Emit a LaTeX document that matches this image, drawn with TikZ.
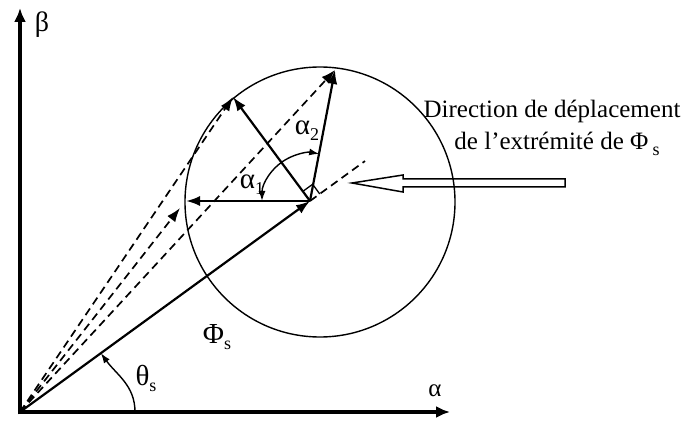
\documentclass[tikz,border=0pt]{standalone}
\usepackage{fontspec}
\setmainfont{Liberation Serif}
\usetikzlibrary{arrows.meta}
\newcommand{\subs}[1]{\raisebox{-0.45ex}{\fontsize{18}{18}\selectfont #1}}
\begin{document}
\begin{tikzpicture}[x=1pt,y=1pt,
  axis/.style={line width=4.5pt,-{Latex[length=14pt,width=12pt]}},
  vec/.style={line width=2.2pt,-{Latex[length=14pt,width=10pt]}},
  dashvec/.style={line width=1.7pt,dash pattern=on 8pt off 5pt,-{Latex[length=14pt,width=10pt]}},
  arcline/.style={line width=1.4pt},
  lab/.style={inner sep=0pt,font=\fontsize{29}{32}\selectfont},
  txt/.style={inner sep=0pt,anchor=base,font=\fontsize{25}{30}\selectfont}
]
\useasboundingbox (0,0) rectangle (683,421);
% key points
\coordinate (O) at (20,9);
\coordinate (Ox) at (17.75,9);
\coordinate (Oy) at (20,6.75);
\coordinate (Xend) at (450,9);
\coordinate (Yend) at (20,413);
\coordinate (C) at (310,220);
\coordinate (K) at (320,219);
\coordinate (L) at (186,220);
\coordinate (U) at (233,324);
\coordinate (T) at (335,351);
\coordinate (D) at (180,213);
\coordinate (Th1) at (135,9);
\coordinate (Th2) at ([shift={(36:100)}]O);
% circle
\draw[arcline] (K) circle[radius=135];
% dashed vectors from origin
\draw[dashvec] (O) -- (D);
\draw[dashvec] (O) -- (U);
\draw[dashvec] (O) -- (T);
\draw[line width=1.7pt,dash pattern=on 8pt off 5pt] (C) -- ([shift={(36:68)}]C);
% axes
\draw[axis] (Ox) -- (Xend);
\draw[axis] (Oy) -- (Yend);
% flux vector and voltage vectors
\draw[vec] (O) -- (C);
\draw[vec] (C) -- (L);
\draw[vec] (C) -- (U);
\draw[vec] (C) -- (T);
% right angle mark
\draw[line width=1.3pt] ([shift={(36:12)}]C) -- ++(126:12) -- ++(216:12);
% angle arcs
\draw[arcline,{Latex[length=10pt,width=7pt]}-{Latex[length=10pt,width=7pt]}]
  ([shift={(180:48)}]C) arc[start angle=180,end angle=79,radius=48];
\draw[arcline,-{Latex[length=10pt,width=7pt]}]
  (Th1) to[out=90,in=-54] (Th2);
% hollow arrow
\draw[line width=1.5pt,line join=miter]
  (352,238) -- (403,246) -- (403,242) -- (565,242) -- (565,234)
  -- (403,234) -- (403,229) -- cycle;
% labels
\node[lab,font=\fontsize{28}{30}\selectfont] (lbeta) at (42,396) {β};
\node[lab,font=\fontsize{25}{28}\selectfont] (lalpha) at (435,30) {α};
\node[lab] (la1) at (252,236) {α\subs{1}};
\node[lab] (la2) at (307,290) {α\subs{2}};
\node[lab] (lth) at (146,43) {θ\subs{s}};
\node[lab] (lphi) at (217,84) {Φ\subs{s}};
\node[txt] (t1) at (552,303) {Direction de déplacement};
\node[txt] (t2) at (557,271) {de l’extrémité de Φ\,\subs{s}};
\end{tikzpicture}
\end{document}
